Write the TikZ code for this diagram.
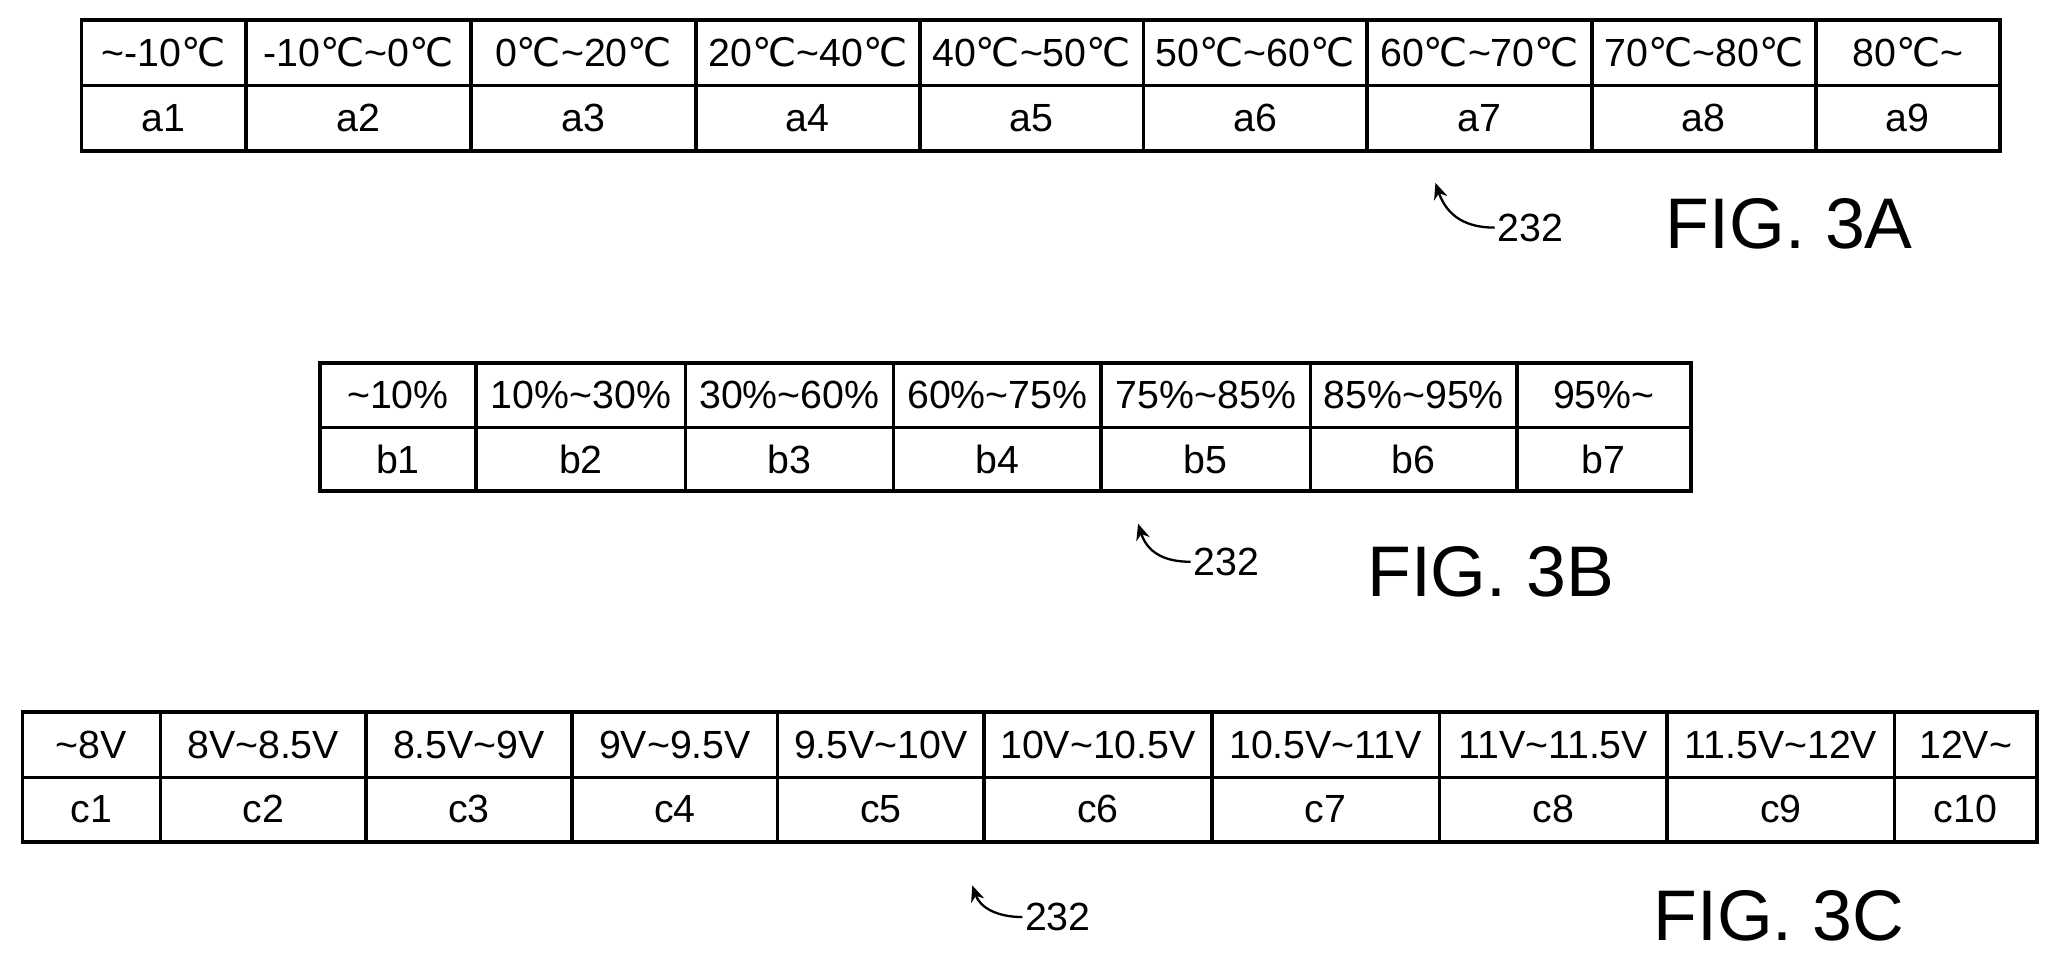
\documentclass[tikz,border=0pt]{standalone}
\usepackage{fontspec}
\setmainfont{Liberation Sans}
\newfontfamily\djv{DejaVu Sans}
\usetikzlibrary{arrows.meta}
\newcommand{\dC}{{\djv ℃}}
\begin{document}
\begin{tikzpicture}[x=0.02cm,y=-0.02cm,
  grid/.style={line width=1.6pt},
  cell/.style={font=\fontsize{17}{20}\selectfont,inner sep=0pt},
  ref/.style={font=\fontsize{17}{20}\selectfont,inner sep=1pt},
  fig/.style={font=\fontsize{31}{36}\selectfont,inner sep=0pt},
  lead/.style={line width=1pt,-{Stealth[length=7pt,width=6pt]}}]
\useasboundingbox (0,0) rectangle (1568,732);
% Table A
\def\ya{15}\def\yb{65}\def\yc{115}
\foreach \l/\r/\t/\b [count=\i] in {62/187/{\textasciitilde-10\dC}/a1,187/358/{-10\dC\textasciitilde0\dC}/a2,358/529/{0\dC\textasciitilde20\dC}/a3,529/699/{20\dC\textasciitilde40\dC}/a4,699/869/{40\dC\textasciitilde50\dC}/a5,869/1039/{50\dC\textasciitilde60\dC}/a6,1039/1210/{60\dC\textasciitilde70\dC}/a7,1210/1380/{70\dC\textasciitilde80\dC}/a8,1380/1520/{80\dC\textasciitilde}/a9}{
  \draw[grid] (\l,\ya) rectangle (\r,\yc) (\l,\yb) -- (\r,\yb);
  \node[cell] (ta\i) at ({(\l+\r)/2},40) {\t};
  \node[cell] (ba\i) at ({(\l+\r)/2},90) {\b};
}
\node[ref] (ra) at (1163,173) {232};
\coordinate (ha) at (1091,139);
\draw[lead] (ra.west) .. controls (1115,173) and (1100,165) .. (ha);
\node[fig] (fa) at (1360,170) {FIG. 3A};
% Table B
\foreach \l/\r/\t/\b [count=\i] in {243/362/{\textasciitilde10\%}/b1,362/521/{10\%\textasciitilde30\%}/b2,521/679/{30\%\textasciitilde60\%}/b3,679/837/{60\%\textasciitilde75\%}/b4,837/996/{75\%\textasciitilde85\%}/b5,996/1153/{85\%\textasciitilde95\%}/b6,1153/1285/{95\%\textasciitilde}/b7}{
  \draw[grid] (\l,276) rectangle (\r,373) (\l,325) -- (\r,325);
  \node[cell] (tb\i) at ({(\l+\r)/2},300) {\t};
  \node[cell] (bb\i) at ({(\l+\r)/2},349) {\b};
}
\node[ref] (rb) at (932,427) {232};
\coordinate (hb) at (865,398);
\draw[lead] (rb.west) .. controls (885,427) and (872,420) .. (hb);
\node[fig] (fb) at (1133,435) {FIG. 3B};
% Table C
\foreach \l/\r/\t/\b [count=\i] in {17/122/{\textasciitilde8V}/c1,122/278/{8V\textasciitilde8.5V}/c2,278/435/{8.5V\textasciitilde9V}/c3,435/591/{9V\textasciitilde9.5V}/c4,591/748/{9.5V\textasciitilde10V}/c5,748/921/{10V\textasciitilde10.5V}/c6,921/1094/{10.5V\textasciitilde11V}/c7,1094/1267/{11V\textasciitilde11.5V}/c8,1267/1440/{11.5V\textasciitilde12V}/c9,1440/1548/{12V\textasciitilde}/c10}{
  \draw[grid] (\l,541) rectangle (\r,640) (\l,591) -- (\r,591);
  \node[cell] (tc\i) at ({(\l+\r)/2},566) {\t};
  \node[cell] (bc\i) at ({(\l+\r)/2},615) {\b};
}
\node[ref] (rc) at (804,697) {232};
\coordinate (hc) at (739,673);
\draw[lead] (rc.west) .. controls (758,697) and (745,690) .. (hc);
\node[fig] (fc) at (1352,696) {FIG. 3C};
\end{tikzpicture}
\end{document}
